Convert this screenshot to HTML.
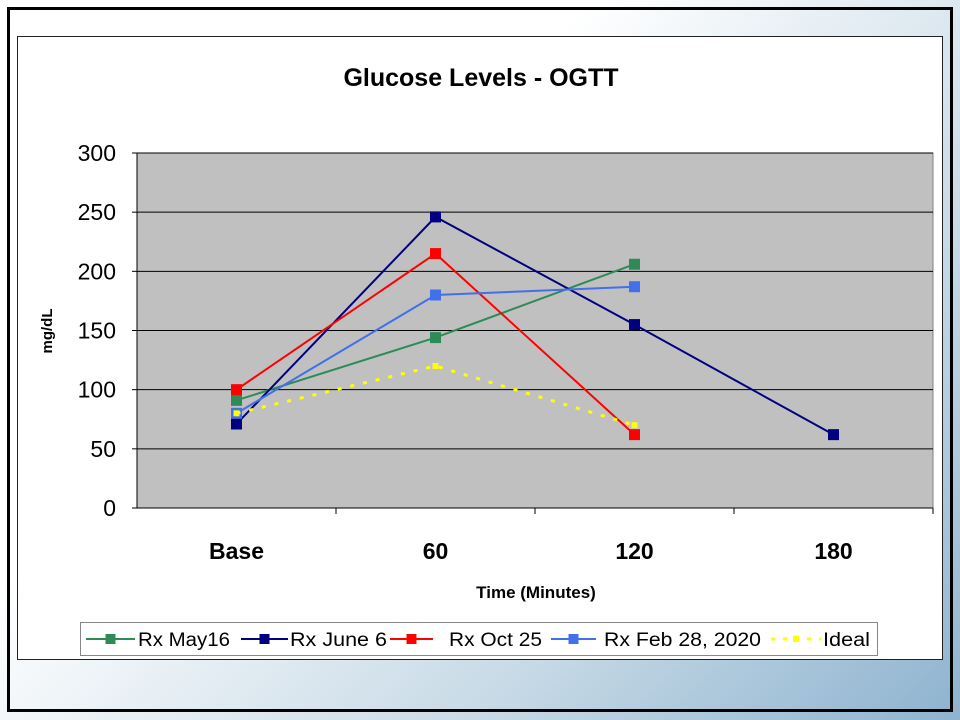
<!DOCTYPE html>
<html><head><meta charset="utf-8"><style>
html,body{margin:0;padding:0;width:960px;height:720px;overflow:hidden;}
body{background:linear-gradient(135deg,#ffffff 0%,#ffffff 35%,#c9dbe7 70%,#8eb3cf 100%);font-family:"Liberation Sans",sans-serif;}
</style></head><body>
<svg id="chart" width="960" height="720" xmlns="http://www.w3.org/2000/svg">
<rect x="8.5" y="8.5" width="943" height="702" fill="none" stroke="#000" stroke-width="3"/>
<rect x="17.5" y="36.5" width="925" height="623" fill="#fff" stroke="#222" stroke-width="1"/>
<text x="481" y="86" font-size="25" font-weight="bold" text-anchor="middle">Glucose Levels - OGTT</text>
<rect x="137" y="153" width="796" height="355" fill="#c0c0c0" stroke="#808080"/>
<g id="grid"></g><g id="axes"></g><g id="series"></g>
<text transform="translate(52,331) rotate(-90)" font-size="15" font-weight="bold" text-anchor="middle">mg/dL</text>
<text x="536" y="598" font-size="17" font-weight="bold" text-anchor="middle">Time (Minutes)</text>
<g>
<rect x="80.5" y="622.5" width="797" height="33" fill="#fff" stroke="#888"/>
<g id="legend"></g></g>
</svg>
<script>
const categories=["Base","60","120","180"];
const yTicks=[0,50,100,150,200,250,300];
const seriesNames=["Rx May16","Rx June 6","Rx Oct 25","Rx Feb 28, 2020","Ideal"];
const mayValues=[91,144,206,null];
const juneValues=[71,246,155,62];
const octValues=[100,215,62,null];
const febValues=[80,180,187,null];
const idealValues=[80,120,70,null];
const colors=["#2e8b57","#000080","#ff0000","#4170e8","#ffff00"];
const NS="http://www.w3.org/2000/svg";
const X0=137,X1=933,Y0=508,Y1=153,YMAX=300;
function xPos(i){return X0+(X1-X0)/categories.length*(i+0.5);}
function yPos(v){return Y0-(v/YMAX)*(Y0-Y1);}
function mk(tag,attrs,parent){const e=document.createElementNS(NS,tag);for(const k in attrs)e.setAttribute(k,attrs[k]);parent.appendChild(e);return e;}
const grid=document.getElementById('grid'),axes=document.getElementById('axes'),ser=document.getElementById('series'),leg=document.getElementById('legend');
yTicks.forEach(t=>{
  if(t>0){const g=mk('line',{x1:X0,x2:X1,y1:yPos(t),y2:yPos(t),stroke:'#000','stroke-width':1},grid);
  
  }
  const tk=mk('line',{x1:X0-5,x2:X0,y1:yPos(t),y2:yPos(t),stroke:'#000'},axes);
  
  
  const lb=mk('text',{x:X0-21,y:yPos(t)+8,'font-size':23,'text-anchor':'end'},axes);
  lb.textContent=t;
  
  
});
const xa=mk('line',{x1:X0,x2:X1,y1:Y0,y2:Y0,stroke:'#000'},axes);


const ya=mk('line',{x1:X0,x2:X0,y1:Y1,y2:Y0,stroke:'#000'},axes);


categories.forEach((c,i)=>{
  const bx=X0+(X1-X0)/categories.length*(i+1);
  const tk=mk('line',{x1:bx,x2:bx,y1:Y0,y2:Y0+6,stroke:'#000'},axes);
  
  
  const lb=mk('text',{x:xPos(i),y:559,'font-size':23,'font-weight':'bold','text-anchor':'middle'},axes);
  lb.textContent=c;
  
  
});
const allSeries=[mayValues,juneValues,octValues,febValues,idealValues];
allSeries.forEach((vals,s)=>{
  const g=mk('g',{},ser);
  
  
  const pts=vals.map((v,i)=>v==null?null:[xPos(i),yPos(v)]).filter(p=>p);
  const dashed=s===4;
  const pl=mk('polyline',{points:pts.map(p=>p.join(',')).join(' '),fill:'none',stroke:colors[s],'stroke-width':dashed?3:2,'stroke-dasharray':dashed?'4,9':'none'},g);
  
  
  pts.forEach(p=>{
    const sz=dashed?6:11;
    const m=mk('rect',{x:p[0]-sz/2,y:p[1]-sz/2,width:sz,height:sz,fill:colors[s]},g);
    
    
  });
});
const legLineX=[86,241,390,551,771];
const legLineW=[49,47,43,45,50];
const legTextX=[138,290,449,604,823];
const legTextW=[92,97,93,157,47];
seriesNames.forEach((n,s)=>{
  const g=mk('g',{},leg);
  
  
  const x=legLineX[s],w=legLineW[s],y=639,dashed=s===4;
  mk('line',{x1:x,x2:x+w,y1:y,y2:y,stroke:colors[s],'stroke-width':dashed?3:2,'stroke-dasharray':dashed?'4,8':'none'},g);
  const sz=dashed?6:10;
  mk('rect',{x:x+w/2-sz/2,y:y-sz/2,width:sz,height:sz,fill:colors[s]},g);
  const t=mk('text',{x:legTextX[s],y:y+7,'font-size':19,textLength:legTextW[s],lengthAdjust:'spacingAndGlyphs'},g);
  t.textContent=n;
});
</script>
</body></html>
